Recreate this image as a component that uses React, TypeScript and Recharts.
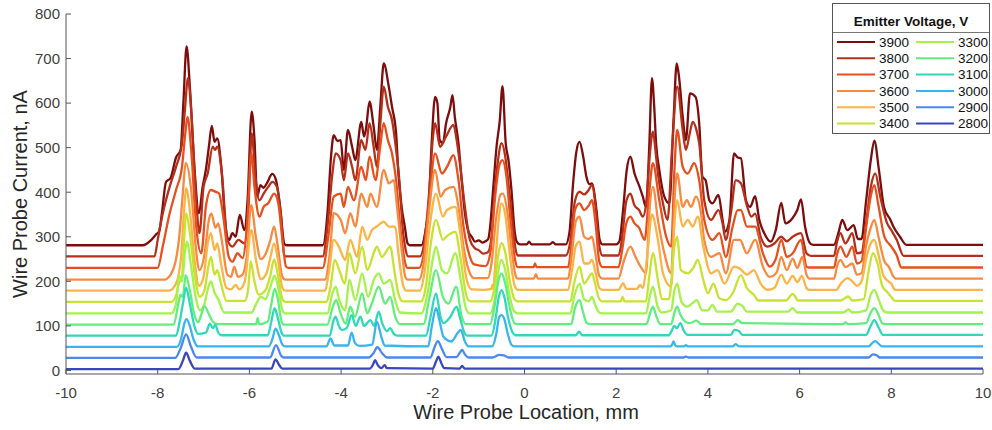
import React from 'react';
import { LineChart, Line, XAxis, YAxis } from 'recharts';

const voltages = ['3900', '3800', '3700', '3600', '3500', '3400', '3300', '3200', '3100', '3000', '2900', '2800'];
const colors = ['#7d0c0c', '#b5301a', '#e6501f', '#f78a40', '#fbb446', '#c8e232', '#a4f24a', '#62ee7e', '#2fd8b8', '#38b4ee', '#4a88ee', '#3a46bc'];
const xTicks = [-10, -8, -6, -4, -2, 0, 2, 4, 6, 8, 10];
const yTicks = [0, 100, 200, 300, 400, 500, 600, 700, 800];

const v3900 = [[-10,281],[-8.33,281],[-8.15,292],[-8.03,306],[-7.97,312],[-7.9,360],[-7.82,423],[-7.72,432],[-7.6,478],[-7.5,495],[-7.44,600],[-7.37,727],[-7.3,640],[-7.2,457],[-7.1,353],[-7.02,412],[-6.95,450],[-6.88,505],[-6.82,549],[-6.76,513],[-6.7,521],[-6.62,465],[-6.51,315],[-6.44,293],[-6.37,308],[-6.3,300],[-6.21,349],[-6.11,315],[-6.04,382],[-5.95,581],[-5.89,520],[-5.83,390],[-5.76,416],[-5.69,410],[-5.62,420],[-5.5,441],[-5.42,427],[-5.33,367],[-5.24,285],[-5.2,281],[-4.4,281],[-4.3,350],[-4.22,480],[-4.16,528],[-4.08,515],[-4.01,517],[-3.94,450],[-3.85,540],[-3.76,502],[-3.69,472],[-3.56,558],[-3.5,525],[-3.46,540],[-3.38,603],[-3.29,547],[-3.22,495],[-3.14,600],[-3.07,689],[-2.96,637],[-2.89,592],[-2.8,532],[-2.75,442],[-2.68,367],[-2.61,322],[-2.55,285],[-2.5,281],[-2.25,281],[-2.15,320],[-2.09,367],[-2.02,520],[-1.95,614],[-1.9,600],[-1.85,517],[-1.78,510],[-1.71,555],[-1.62,590],[-1.57,618],[-1.52,569],[-1.44,510],[-1.37,427],[-1.3,353],[-1.22,311],[-1.15,300],[-1.08,289],[-1.0,292],[-0.92,287],[-0.85,290],[-0.79,295],[-0.75,322],[-0.68,412],[-0.61,502],[-0.54,560],[-0.48,638],[-0.41,510],[-0.35,472],[-0.29,412],[-0.21,308],[-0.17,289],[-0.1,283],[0.05,283],[0.1,289],[0.15,283],[0.55,283],[0.62,288],[0.68,283],[0.9,283],[0.98,310],[1.06,420],[1.13,490],[1.2,513],[1.28,480],[1.35,435],[1.42,418],[1.47,420],[1.57,360],[1.64,293],[1.7,283],[2.0,283],[2.07,290],[2.15,360],[2.23,450],[2.31,480],[2.4,442],[2.51,412],[2.58,390],[2.65,367],[2.72,500],[2.78,656],[2.83,590],[2.87,510],[2.94,450],[3.05,390],[3.16,375],[3.25,560],[3.32,689],[3.37,659],[3.45,570],[3.52,517],[3.61,622],[3.73,614],[3.81,555],[3.88,435],[3.95,427],[4.03,382],[4.1,375],[4.23,394],[4.32,338],[4.37,311],[4.47,338],[4.57,487],[4.65,478],[4.72,476],[4.83,382],[4.92,367],[5.03,391],[5.12,338],[5.23,308],[5.37,289],[5.48,315],[5.6,376],[5.69,330],[5.84,341],[5.95,360],[6.03,384],[6.12,322],[6.24,284],[6.3,282],[6.75,282],[6.85,310],[6.93,338],[7.04,315],[7.18,326],[7.27,295],[7.35,295],[7.45,380],[7.55,470],[7.63,516],[7.73,450],[7.84,367],[7.98,338],[8.05,322],[8.19,300],[8.33,282],[10,282]];

const v3800 = [[-10,256],[-8.07,256],[-8.0,293],[-7.89,352],[-7.74,412],[-7.6,457],[-7.47,510],[-7.41,580],[-7.34,656],[-7.27,584],[-7.16,382],[-7.09,308],[-7.0,412],[-6.91,442],[-6.8,502],[-6.75,495],[-6.7,502],[-6.6,442],[-6.48,293],[-6.37,278],[-6.24,293],[-6.11,285],[-6.02,367],[-5.95,532],[-5.87,435],[-5.78,382],[-5.69,397],[-5.59,412],[-5.5,423],[-5.4,412],[-5.31,345],[-5.24,259],[-5.2,256],[-4.4,256],[-4.3,320],[-4.19,442],[-4.12,487],[-4.01,472],[-3.94,427],[-3.85,487],[-3.76,457],[-3.69,427],[-3.56,517],[-3.47,495],[-3.38,555],[-3.29,502],[-3.22,457],[-3.14,560],[-3.07,637],[-2.98,592],[-2.89,562],[-2.8,495],[-2.73,427],[-2.66,323],[-2.59,270],[-2.54,256],[-2.28,256],[-2.17,300],[-2.08,400],[-2.0,520],[-1.95,555],[-1.84,502],[-1.71,525],[-1.55,551],[-1.48,517],[-1.4,457],[-1.3,367],[-1.19,293],[-1.08,274],[-1.0,270],[-0.9,262],[-0.8,265],[-0.72,300],[-0.65,400],[-0.58,470],[-0.5,510],[-0.42,480],[-0.35,420],[-0.28,350],[-0.2,275],[-0.15,258],[0.9,258],[1.0,290],[1.1,380],[1.2,401],[1.3,395],[1.4,405],[1.47,416],[1.55,370],[1.63,280],[1.7,258],[2.05,258],[2.12,290],[2.22,380],[2.31,397],[2.4,370],[2.5,360],[2.58,345],[2.66,380],[2.73,480],[2.8,536],[2.87,480],[2.91,442],[3.02,375],[3.12,338],[3.22,500],[3.33,637],[3.45,540],[3.52,495],[3.6,530],[3.67,558],[3.75,540],[3.81,510],[3.92,382],[4.07,338],[4.23,360],[4.32,330],[4.39,293],[4.5,352],[4.61,427],[4.72,420],[4.85,370],[4.95,345],[5.03,352],[5.15,300],[5.3,278],[5.45,285],[5.6,300],[5.72,290],[5.85,300],[6.03,308],[6.15,263],[6.25,257],[6.75,257],[6.82,290],[6.89,308],[7.0,285],[7.15,308],[7.25,263],[7.35,265],[7.45,330],[7.55,410],[7.65,442],[7.76,390],[7.91,330],[8.0,315],[8.12,293],[8.27,257],[10,257]];

const v3700 = [[-10,230],[-8.0,230],[-7.89,278],[-7.74,352],[-7.6,405],[-7.47,457],[-7.4,530],[-7.35,569],[-7.27,495],[-7.16,323],[-7.05,263],[-6.95,367],[-6.84,405],[-6.74,401],[-6.66,397],[-6.57,345],[-6.45,255],[-6.37,244],[-6.26,263],[-6.15,252],[-6.04,345],[-5.96,487],[-5.89,412],[-5.78,345],[-5.69,367],[-5.59,375],[-5.46,397],[-5.37,375],[-5.28,293],[-5.2,233],[-5.15,230],[-4.4,230],[-4.28,300],[-4.16,390],[-4.01,397],[-3.94,367],[-3.85,412],[-3.72,382],[-3.56,457],[-3.46,427],[-3.38,480],[-3.25,427],[-3.15,500],[-3.07,555],[-2.98,517],[-2.89,487],[-2.8,427],[-2.71,323],[-2.6,240],[-2.55,230],[-2.3,230],[-2.2,260],[-2.08,380],[-1.95,487],[-1.8,442],[-1.69,457],[-1.55,483],[-1.44,427],[-1.33,323],[-1.19,255],[-1.1,238],[-0.85,234],[-0.75,260],[-0.65,380],[-0.55,460],[-0.48,472],[-0.4,440],[-0.3,330],[-0.2,245],[-0.15,232],[0.2,232],[0.23,240],[0.26,232],[0.95,232],[1.03,290],[1.1,360],[1.2,375],[1.3,360],[1.4,370],[1.47,382],[1.55,330],[1.63,245],[1.7,232],[2.05,232],[2.13,270],[2.22,330],[2.31,345],[2.4,330],[2.5,320],[2.62,293],[2.72,400],[2.8,465],[2.94,382],[3.09,300],[3.2,278],[3.27,450],[3.33,540],[3.45,457],[3.56,442],[3.7,465],[3.81,427],[3.92,338],[4.1,293],[4.25,308],[4.39,255],[4.54,323],[4.65,360],[4.72,360],[4.85,323],[5.03,323],[5.2,263],[5.35,233],[5.48,250],[5.6,293],[5.72,255],[5.85,263],[6.03,293],[6.15,233],[6.2,231],[6.75,231],[6.82,262],[6.89,278],[7.02,255],[7.15,278],[7.25,240],[7.35,245],[7.45,320],[7.55,390],[7.63,416],[7.72,370],[7.85,300],[8.0,278],[8.12,258],[8.22,231],[10,231]];

const v3600 = [[-10,204],[-7.85,204],[-7.67,225],[-7.53,300],[-7.45,400],[-7.39,466],[-7.27,405],[-7.17,278],[-7.09,225],[-6.98,260],[-6.88,340],[-6.83,352],[-6.74,320],[-6.68,330],[-6.6,290],[-6.48,215],[-6.4,210],[-6.33,233],[-6.25,210],[-6.15,215],[-6.06,255],[-5.96,371],[-5.86,300],[-5.75,250],[-5.64,263],[-5.55,290],[-5.46,323],[-5.39,285],[-5.28,210],[-5.22,204],[-4.35,204],[-4.25,260],[-4.16,353],[-4.01,338],[-3.91,308],[-3.8,353],[-3.69,323],[-3.56,397],[-3.43,367],[-3.36,397],[-3.22,367],[-3.07,450],[-2.96,420],[-2.85,427],[-2.78,367],[-2.67,263],[-2.6,210],[-2.55,204],[-2.3,204],[-2.2,240],[-2.08,360],[-1.95,450],[-1.83,390],[-1.73,405],[-1.55,412],[-1.44,367],[-1.33,278],[-1.19,218],[-1.1,207],[-0.8,207],[-0.72,240],[-0.62,340],[-0.52,395],[-0.47,397],[-0.38,360],[-0.28,270],[-0.2,215],[-0.15,206],[0.2,206],[0.25,216],[0.29,206],[0.95,206],[1.03,260],[1.12,335],[1.2,345],[1.3,300],[1.4,295],[1.47,300],[1.55,260],[1.63,212],[1.7,206],[2.05,206],[2.15,240],[2.31,278],[2.42,255],[2.55,230],[2.65,218],[2.72,350],[2.8,412],[2.91,338],[3.05,263],[3.2,218],[3.27,380],[3.33,442],[3.45,367],[3.54,382],[3.63,367],[3.74,390],[3.85,353],[3.92,293],[4.07,255],[4.25,263],[4.39,218],[4.57,293],[4.7,293],[4.85,263],[5.03,293],[5.2,233],[5.35,210],[5.5,220],[5.6,255],[5.72,225],[5.85,251],[5.95,230],[6.06,255],[6.15,215],[6.22,206],[6.75,206],[6.82,235],[6.89,248],[7.0,232],[7.15,240],[7.25,215],[7.35,218],[7.45,280],[7.55,320],[7.63,338],[7.72,300],[7.85,245],[7.95,232],[8.05,210],[8.1,206],[10,206]];

const v3500 = [[-10,179],[-7.75,179],[-7.6,195],[-7.49,255],[-7.43,350],[-7.38,409],[-7.3,360],[-7.2,250],[-7.1,190],[-7.0,210],[-6.9,290],[-6.84,308],[-6.76,270],[-6.7,285],[-6.62,240],[-6.5,185],[-6.4,182],[-6.3,192],[-6.22,182],[-6.1,200],[-5.96,315],[-5.86,250],[-5.75,205],[-5.62,220],[-5.55,250],[-5.46,285],[-5.38,250],[-5.28,185],[-5.22,179],[-4.35,179],[-4.27,218],[-4.16,293],[-4.05,278],[-3.91,248],[-3.8,293],[-3.65,255],[-3.54,323],[-3.43,293],[-3.33,315],[-3.22,323],[-3.07,334],[-2.96,323],[-2.82,323],[-2.75,263],[-2.64,188],[-2.58,179],[-2.28,179],[-2.18,220],[-2.06,330],[-1.93,397],[-1.78,345],[-1.69,360],[-1.51,367],[-1.4,308],[-1.26,203],[-1.15,182],[-0.9,181],[-0.72,183],[-0.7,192],[-0.68,183],[-0.65,220],[-0.57,330],[-0.5,375],[-0.42,350],[-0.32,260],[-0.22,192],[-0.15,181],[0.95,181],[1.03,220],[1.12,280],[1.2,289],[1.3,240],[1.4,240],[1.47,248],[1.55,220],[1.63,185],[1.7,181],[2.05,181],[2.15,196],[2.22,183],[2.45,183],[2.52,192],[2.58,185],[2.68,260],[2.78,350],[2.91,293],[3.02,218],[3.2,188],[3.27,330],[3.33,382],[3.45,323],[3.56,338],[3.67,323],[3.78,345],[3.9,278],[4.07,218],[4.21,225],[4.36,195],[4.57,233],[4.7,228],[4.85,215],[5.0,225],[5.15,195],[5.3,181],[5.45,185],[5.6,215],[5.72,195],[5.85,212],[5.95,198],[6.05,212],[6.15,185],[6.2,181],[6.8,181],[6.9,195],[7.05,207],[7.15,200],[7.25,190],[7.35,200],[7.45,250],[7.55,285],[7.63,293],[7.72,260],[7.82,215],[7.9,203],[8.0,195],[8.08,181],[10,181]];

const v3400 = [[-10,154],[-7.7,154],[-7.58,175],[-7.52,200],[-7.48,200],[-7.42,300],[-7.38,353],[-7.3,310],[-7.2,220],[-7.08,165],[-6.98,180],[-6.9,230],[-6.84,255],[-6.76,215],[-6.7,225],[-6.62,195],[-6.5,156],[-6.1,156],[-6.03,180],[-5.97,245],[-5.9,205],[-5.8,170],[-5.65,180],[-5.55,210],[-5.46,249],[-5.38,215],[-5.28,160],[-5.22,154],[-4.33,154],[-4.23,188],[-4.14,248],[-4.04,225],[-3.92,195],[-3.82,263],[-3.69,218],[-3.54,278],[-3.43,225],[-3.29,263],[-3.22,278],[-3.11,255],[-2.93,278],[-2.83,218],[-2.75,173],[-2.66,155],[-2.25,155],[-2.15,190],[-2.05,280],[-1.93,338],[-1.78,293],[-1.71,300],[-1.51,311],[-1.4,255],[-1.26,165],[-1.18,155],[-0.75,155],[-0.65,190],[-0.57,260],[-0.5,286],[-0.42,265],[-0.32,200],[-0.22,160],[-0.15,155],[1.0,155],[1.08,195],[1.2,233],[1.3,195],[1.38,205],[1.47,218],[1.55,190],[1.63,160],[1.7,155],[2.1,155],[2.14,165],[2.18,155],[2.65,155],[2.72,210],[2.8,263],[2.91,203],[3.0,160],[3.15,160],[3.27,278],[3.33,300],[3.41,225],[3.56,218],[3.68,230],[3.78,248],[3.9,203],[4.0,173],[4.12,195],[4.25,162],[4.4,158],[4.55,175],[4.72,214],[4.85,185],[5.0,170],[5.1,157],[5.7,157],[5.85,172],[5.97,157],[6.9,157],[7.06,166],[7.15,157],[7.4,160],[7.5,220],[7.6,263],[7.7,240],[7.8,190],[7.9,177],[8.0,165],[8.08,156],[10,156]];

const v3300 = [[-10,128],[-7.7,128],[-7.6,150],[-7.53,214],[-7.47,200],[-7.4,270],[-7.36,289],[-7.28,240],[-7.18,170],[-7.08,135],[-6.98,150],[-6.9,185],[-6.84,200],[-6.76,175],[-6.68,160],[-6.55,130],[-5.95,130],[-5.85,150],[-5.75,165],[-5.65,160],[-5.55,185],[-5.45,213],[-5.37,185],[-5.28,135],[-5.22,128],[-4.3,128],[-4.19,173],[-4.12,188],[-4.04,158],[-3.91,135],[-3.82,203],[-3.69,158],[-3.54,218],[-3.41,165],[-3.29,203],[-3.18,218],[-3.07,195],[-2.93,203],[-2.82,158],[-2.72,130],[-2.25,128],[-2.12,170],[-2.0,250],[-1.93,278],[-1.8,225],[-1.69,218],[-1.51,263],[-1.39,203],[-1.28,140],[-1.2,128],[-0.75,128],[-0.65,160],[-0.57,225],[-0.5,248],[-0.42,225],[-0.32,165],[-0.22,132],[-0.15,128],[1.0,128],[1.08,165],[1.2,195],[1.3,160],[1.4,155],[1.47,165],[1.55,145],[1.63,130],[1.7,128],[2.65,128],[2.72,160],[2.8,188],[2.9,145],[3.0,130],[3.2,135],[3.27,180],[3.33,195],[3.42,155],[3.55,143],[3.65,150],[3.76,158],[3.87,135],[4.0,135],[4.1,147],[4.2,132],[4.5,132],[4.65,150],[4.75,145],[4.85,132],[5.75,132],[5.85,140],[5.95,130],[6.95,130],[7.07,137],[7.15,130],[7.45,135],[7.55,170],[7.63,181],[7.72,160],[7.82,135],[7.9,130],[10,130]];

const v3200 = [[-10,103],[-7.65,103],[-7.55,150],[-7.5,170],[-7.45,165],[-7.39,214],[-7.3,180],[-7.2,125],[-7.12,108],[-7.05,125],[-6.98,145],[-6.9,130],[-6.8,110],[-6.7,104],[-5.85,104],[-5.82,118],[-5.79,104],[-5.6,110],[-5.52,150],[-5.45,183],[-5.38,160],[-5.3,110],[-5.25,103],[-4.3,103],[-4.18,143],[-4.11,158],[-4.01,128],[-3.9,105],[-3.8,143],[-3.7,120],[-3.54,173],[-3.43,128],[-3.33,150],[-3.18,188],[-3.04,150],[-2.93,165],[-2.82,121],[-2.72,104],[-2.2,104],[-2.08,160],[-1.93,225],[-1.78,165],[-1.66,150],[-1.49,188],[-1.37,121],[-1.28,104],[-0.75,104],[-0.66,140],[-0.56,205],[-0.5,218],[-0.42,195],[-0.32,140],[-0.22,106],[-0.15,104],[1.02,104],[1.1,140],[1.2,158],[1.28,130],[1.36,106],[1.45,104],[2.66,104],[2.73,125],[2.8,143],[2.88,120],[2.96,104],[3.2,104],[3.27,130],[3.33,143],[3.4,125],[3.5,110],[3.6,106],[3.75,112],[3.85,104],[4.55,104],[4.65,113],[4.75,106],[6.95,104],[7.0,108],[7.05,104],[7.45,106],[7.55,130],[7.63,140],[7.72,125],[7.8,106],[7.88,104],[10,104]];

const v3100 = [[-10,78],[-7.6,78],[-7.52,110],[-7.45,150],[-7.38,186],[-7.3,150],[-7.2,100],[-7.12,82],[-6.95,85],[-6.86,105],[-6.8,95],[-6.74,102],[-6.68,85],[-6.6,79],[-5.6,79],[-5.52,110],[-5.45,140],[-5.38,118],[-5.3,85],[-5.25,78],[-4.25,78],[-4.17,110],[-4.12,121],[-4.05,100],[-3.98,91],[-3.88,95],[-3.77,124],[-3.68,100],[-3.58,121],[-3.5,100],[-3.36,113],[-3.28,100],[-3.18,132],[-3.1,105],[-3.0,88],[-2.93,95],[-2.85,82],[-2.78,78],[-2.15,78],[-2.05,120],[-1.93,173],[-1.83,120],[-1.77,106],[-1.62,120],[-1.48,143],[-1.4,115],[-1.3,82],[-1.25,78],[-0.72,78],[-0.64,110],[-0.56,165],[-0.5,180],[-0.44,165],[-0.36,120],[-0.26,85],[-0.2,79],[1.12,79],[1.19,87],[1.26,79],[3.15,79],[3.2,87],[3.27,100],[3.32,95],[3.4,106],[3.47,90],[3.55,80],[4.5,80],[4.58,91],[4.68,88],[4.75,80],[7.45,80],[7.55,100],[7.63,113],[7.72,97],[7.82,80],[10,80]];

const v3000 = [[-10,53],[-7.58,53],[-7.48,75],[-7.42,105],[-7.37,115],[-7.3,100],[-7.22,70],[-7.12,54],[-5.58,54],[-5.5,70],[-5.43,94],[-5.36,80],[-5.28,58],[-5.22,54],[-4.32,54],[-4.23,72],[-4.15,56],[-3.85,56],[-3.77,85],[-3.7,62],[-3.6,55],[-3.32,58],[-3.22,109],[-3.12,75],[-3.05,56],[-2.1,54],[-2.02,100],[-1.93,140],[-1.85,110],[-1.77,76],[-1.6,65],[-1.45,85],[-1.39,91],[-1.3,65],[-1.22,54],[-0.7,54],[-0.62,80],[-0.55,120],[-0.5,124],[-0.44,115],[-0.36,80],[-0.28,57],[-0.22,54],[3.18,54],[3.22,58],[3.25,65],[3.28,58],[3.32,54],[3.48,54],[3.52,57],[3.56,54],[4.54,54],[4.6,59],[4.68,54],[7.5,54],[7.6,63],[7.65,66],[7.72,60],[7.8,54],[10,54]];

const v2900 = [[-10,28],[-7.62,28],[-7.5,50],[-7.38,81],[-7.28,55],[-7.15,29],[-5.55,29],[-5.42,57],[-5.3,32],[-5.25,29],[-3.4,29],[-3.3,38],[-3.21,52],[-3.1,38],[-3.0,29],[-2.05,29],[-1.97,50],[-1.89,66],[-1.8,48],[-1.7,30],[-1.48,30],[-1.41,40],[-1.36,46],[-1.3,36],[-1.22,29],[-0.7,29],[-0.55,35],[-0.45,34],[-0.35,29],[3.45,29],[3.52,31],[3.58,29],[7.5,29],[7.6,36],[7.68,34],[7.75,29],[10,29]];

const v2800 = [[-10,3],[-7.55,3],[-7.45,22],[-7.38,40],[-7.3,22],[-7.19,4],[-5.52,4],[-5.43,25],[-5.35,12],[-5.28,4],[-3.38,4],[-3.3,14],[-3.26,23],[-3.2,12],[-3.12,5],[-3.05,12],[-3.0,5],[-2.0,4],[-1.93,20],[-1.88,31],[-1.82,18],[-1.75,5],[-1.42,4],[-1.36,10],[-1.3,4],[10,4]];

const seriesValues = [v3900, v3800, v3700, v3600, v3500, v3400, v3300, v3200, v3100, v3000, v2900, v2800];

const series = voltages.map((v, i) => ({
  name: v,
  color: colors[i],
  data: seriesValues[i].map(([x, y]) => ({ x, y })),
}));

const FONT = '"Liberation Sans", Arial, Helvetica, sans-serif';

function LegendBox() {
  const rowsY = [39, 55.3, 71.6, 87.9, 104.2, 120.5];
  return (
    <div style={{ position: 'absolute', left: 832, top: 3, width: 158, height: 131, background: '#fff', border: '1px solid #555', boxSizing: 'border-box', fontFamily: FONT }}>
      <svg width={158} height={131} style={{ position: 'absolute', left: -1, top: -1 }}>
        <text x={79} y={23} textAnchor="middle" fontSize={13.5} fontWeight="bold" fill="#111">Emitter Voltage, V</text>
        <line x1={1} x2={157} y1={29.5} y2={29.5} stroke="#777" strokeWidth={1} />
        {series.map((s, i) => {
          const col = i < 6 ? 0 : 1;
          const row = i % 6;
          const lx = col === 0 ? 5 : 84;
          const y = rowsY[row];
          return (
            <g key={s.name}>
              <line x1={lx} x2={lx + 38} y1={y} y2={y} stroke={s.color} strokeWidth={2} />
              <text x={lx + 42} y={y + 4.8} fontSize={13.5} fill="#111">{s.name}</text>
            </g>
          );
        })}
      </svg>
    </div>
  );
}

export default function App() {
  return (
    <div style={{ position: 'absolute', left: 0, top: 0, width: 992, height: 430, background: '#fff' }}>
      <LineChart width={992} height={430} margin={{ top: 14, right: 9, bottom: 26, left: 6 }}>
        <XAxis
          dataKey="x"
          type="number"
          domain={[-10, 10]}
          ticks={xTicks}
          allowDataOverflow
          height={30}
          tickSize={-5}
          tickMargin={18}
          stroke="#555"
          tick={{ fill: '#404040', fontSize: 15, fontFamily: FONT }}
          interval={0}
        />
        <YAxis
          type="number"
          domain={[-8, 800]}
          ticks={yTicks}
          allowDataOverflow
          width={60}
          tickSize={-5}
          tickMargin={11}
          stroke="#555"
          tick={{ fill: '#404040', fontSize: 15, fontFamily: FONT }}
          interval={0}
        />
        {series.map((s) => (
          <Line
            key={s.name}
            data={s.data}
            dataKey="y"
            name={s.name}
            type="monotone"
            stroke={s.color}
            strokeWidth={2.3}
            dot={false}
            activeDot={false}
            isAnimationActive={false}
          />
        ))}
      </LineChart>
      <svg width={992} height={430} style={{ position: 'absolute', left: 0, top: 0, pointerEvents: 'none' }}>
        <text x={27} y={194} transform="rotate(-90 27 194)" textAnchor="middle" fontSize={20} fill="#262626" fontFamily={FONT}>Wire Probe Current, nA</text>
        <text x={526} y={419} textAnchor="middle" fontSize={20} fill="#262626" fontFamily={FONT}>Wire Probe Location, mm</text>
      </svg>
      <LegendBox />
    </div>
  );
}
